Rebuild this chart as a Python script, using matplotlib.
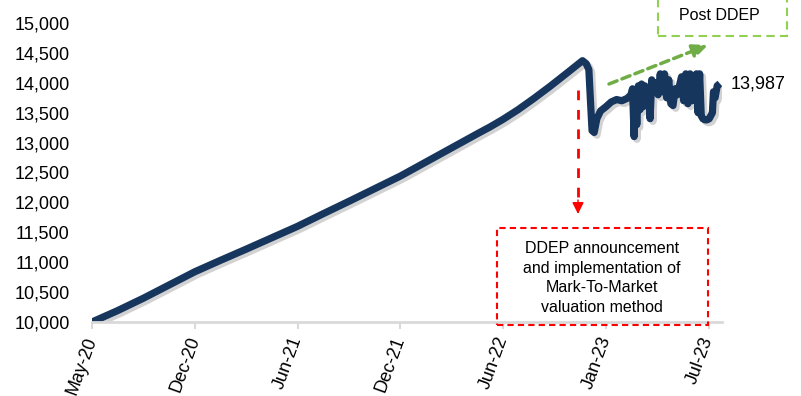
import matplotlib.pyplot as plt
import matplotlib.patheffects as pe
from matplotlib.patches import Rectangle
import numpy as np

plt.rcParams['font.family'] = ['Liberation Sans', 'DejaVu Sans']

# days since start of series (May-20), value of 10,000 invested
trend_days = [0, 48, 97, 145, 193, 241, 290, 338, 386, 434, 483, 531, 579,
              627, 676, 724, 747, 772, 800, 830, 860, 890, 921]
trend_values = [10000, 10190, 10400, 10620, 10840, 11030, 11220, 11410, 11600,
                11810, 12020, 12230, 12440, 12675, 12915, 13150, 13260, 13390,
                13550, 13740, 13940, 14150, 14370]

post_days = [928, 933, 936, 939, 943, 948, 955, 965, 975, 985, 995, 1005, 1012,
             1015, 1018, 1020, 1023, 1026, 1029, 1032, 1035, 1038, 1042, 1045,
             1048, 1051, 1055, 1059, 1063, 1067, 1071, 1075, 1079, 1083, 1087,
             1091, 1095, 1099, 1103, 1107, 1111, 1115, 1119, 1123, 1127, 1131,
             1135, 1138, 1141, 1144, 1147, 1151, 1155, 1159, 1162, 1165, 1167,
             1170, 1174, 1179]
post_values = [14320, 14220, 13700, 13200, 13170, 13400, 13530, 13600, 13680,
               13720, 13700, 13740, 13800, 13900, 13100, 13880, 13300, 13950,
               13550, 13980, 13600, 13950, 13750, 13920, 13400, 14050, 13900,
               14000, 13800, 14150, 13850, 14150, 13750, 14050, 13650, 13620,
               13900, 13800, 13950, 14100, 13700, 14150, 13650, 14150, 13700,
               14050, 14150, 13500, 14150, 13450, 13400, 13380, 13380, 13400,
               13450, 13500, 13850, 13750, 13950, 13987]

tick_days = [0, 193, 386, 579, 772, 965, 1158]
tick_labels = ['May-20', 'Dec-20', 'Jun-21', 'Dec-21', 'Jun-22', 'Jan-23', 'Jul-23']
last_label = '13,987'

W, H = 801, 396
fig = plt.figure(figsize=(W / 100, H / 100), dpi=100)
ax = fig.add_axes([92 / W, 1 - 322 / H, (722 - 92) / W, (322 - 23) / H])


def fp(x, y):
    # top-left pixel -> figure fraction
    return (x / W, 1 - y / H)


days = trend_days + post_days
values = trend_values + post_values
ax.plot(days, values, color='#17365d', lw=5.2, solid_joinstyle='round',
        solid_capstyle='butt',
        path_effects=[pe.SimpleLineShadow(offset=(2, -2), shadow_color='#7f7f7f', alpha=0.35),
                      pe.Normal()])

ax.set_xlim(0, 1183)
ax.set_ylim(10000, 15000)
ax.set_yticks(np.arange(10000, 15001, 500))
ax.set_yticklabels([f'{v:,}' for v in range(10000, 15001, 500)])
ax.set_xticks(tick_days)
ax.set_xticklabels(tick_labels, rotation=70, ha='right', va='center',
                   rotation_mode='anchor')

for s in ['top', 'right', 'left']:
    ax.spines[s].set_visible(False)
ax.spines['bottom'].set_color('#d9d9d9')
ax.spines['bottom'].set_linewidth(2)
ax.tick_params(axis='y', length=0, pad=16, labelsize=13, colors='#000000')
ax.tick_params(axis='x', length=5, width=1.5, color='#d9d9d9', pad=6, labelsize=13)

ax.text(1.0 + 9 / 630, 13987, last_label, transform=ax.get_yaxis_transform(),
        fontsize=13, va='center', ha='left')

# red announcement arrow + box
fig.add_artist(plt.Line2D([578 / W, 578 / W], [1 - 90 / H, 1 - 203 / H],
                          color='#ff0000', lw=2, ls=(0, (3.5, 3.5))))
ax.annotate('', xy=fp(578, 214), xycoords='figure fraction',
            xytext=fp(578, 200), textcoords='figure fraction',
            arrowprops=dict(arrowstyle='-|>,head_width=0.35,head_length=0.7',
                            color='#ff0000', lw=1, shrinkA=0, shrinkB=0))
x0, y0 = fp(497, 325)
x1, y1 = fp(708, 228)
fig.add_artist(Rectangle((x0, y0), x1 - x0, y1 - y0, transform=fig.transFigure,
                         fill=False, ec='#ff0000', lw=1.5, ls=(0, (3, 2))))
fig.text(*fp(602, 278), 'DDEP announcement\nand implementation of\nMark-To-Market\nvaluation method',
         ha='center', va='center', fontsize=11.5, linespacing=1.38)

# green post arrow + box
ax.annotate('', xy=fp(708, 45), xycoords='figure fraction',
            xytext=fp(609, 84), textcoords='figure fraction',
            arrowprops=dict(arrowstyle='-|>,head_width=0.4,head_length=0.9',
                            color='#70ad47', lw=2.5, ls=(0, (2.5, 1.5)),
                            shrinkA=0, shrinkB=0))
x0, y0 = fp(658, 36)
x1, y1 = fp(787, -5)
fig.add_artist(Rectangle((x0, y0), x1 - x0, y1 - y0, transform=fig.transFigure,
                         fill=False, ec='#92d050', lw=1.5, ls=(0, (4, 2.5))))
fig.text(*fp(719, 16), 'Post DDEP', ha='center', va='center', fontsize=11.5)

fig.savefig('out.png', dpi=100)
